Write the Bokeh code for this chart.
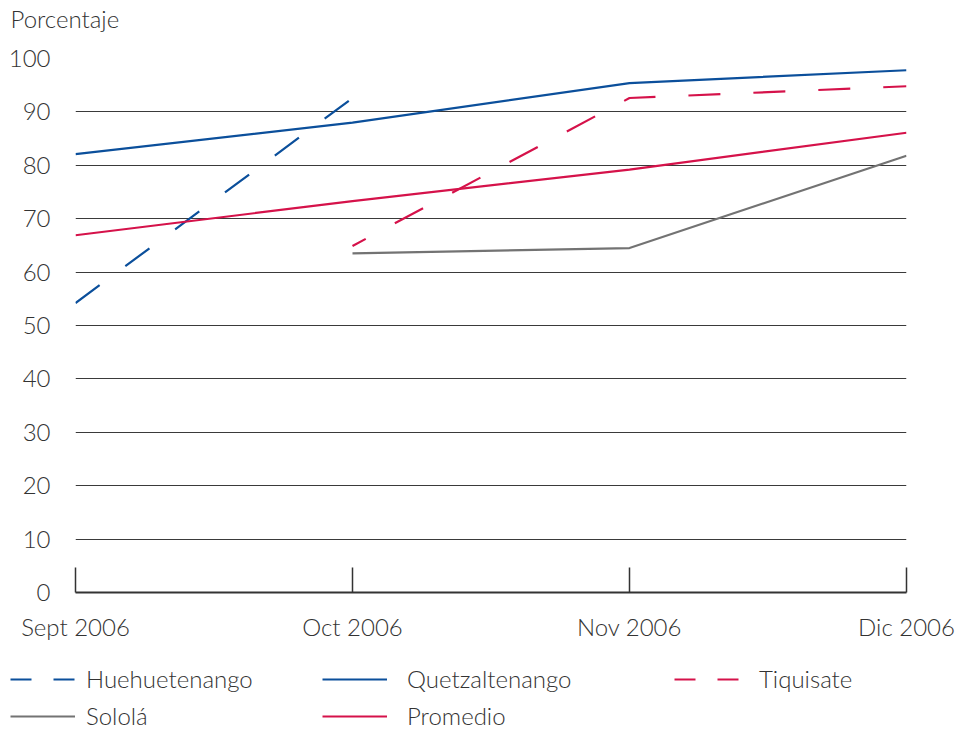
from bokeh.plotting import figure
from bokeh.models import Range1d, FixedTicker, Legend, LegendItem, Label
from bokeh.embed import file_html
from bokeh.resources import INLINE

nan = float("nan")

months = ["Sept 2006", "Oct 2006", "Nov 2006", "Dic 2006"]
huehuetenango = [54.2, 92.6, nan, nan]
quetzaltenango = [82.1, 88.0, 95.4, 97.8]
tiquisate = [nan, 64.9, 92.6, 94.8]
solola = [nan, 63.5, 64.5, 81.8]
promedio = [66.9, 73.3, 79.2, 86.1]
y_ticks = [0, 10, 20, 30, 40, 50, 60, 70, 80, 90, 100]
y_title = "Porcentaje"

BLUE = "#0b4f9b"
RED = "#d5124a"
GRAY = "#737373"
TXT = "#333333"
FONT = "Lato Light"
FS = "24px"

xs = list(range(len(months)))

W = 973
H_TOP = 36
H_MAIN = 610
H_LEG = 84


def blank_fig(h):
    f = figure(width=W, height=h, output_backend="svg", toolbar_location=None,
               x_range=Range1d(0, W), y_range=Range1d(0, h),
               x_axis_type=None, y_axis_type=None,
               min_border=0, min_border_left=0, min_border_right=0,
               min_border_top=0, min_border_bottom=0)
    f.grid.visible = False
    f.outline_line_color = None
    f.background_fill_color = "white"
    f.border_fill_color = "white"
    return f


# top strip with the axis title
tf = blank_fig(H_TOP)
tf.add_layout(Label(x=10, y=H_TOP - 18, x_units="screen", y_units="screen", text=y_title,
                    text_font=FONT, text_font_size=FS, text_color=TXT,
                    text_baseline="middle", text_align="left"))

# main chart
p = figure(width=W, height=H_MAIN, output_backend="svg", toolbar_location=None,
           x_range=Range1d(0, len(months) - 1), y_range=Range1d(0, 100),
           min_border_left=75, min_border_right=67, min_border_top=22, min_border_bottom=54)
p.outline_line_color = None
p.background_fill_color = "white"
p.border_fill_color = "white"
p.title.visible = False

p.xgrid.grid_line_color = None
p.ygrid.grid_line_color = "#3a3a3a"
p.ygrid.grid_line_width = 1
p.ygrid.ticker = FixedTicker(ticks=y_ticks)

p.yaxis.ticker = FixedTicker(ticks=y_ticks)
p.yaxis.axis_line_color = None
p.yaxis.major_tick_line_color = None
p.yaxis.major_tick_in = 0
p.yaxis.major_tick_out = 0
p.yaxis.minor_tick_line_color = None
p.yaxis.minor_tick_in = 0
p.yaxis.minor_tick_out = 0
p.yaxis.major_label_standoff = 25
p.yaxis.major_label_text_font = FONT
p.yaxis.major_label_text_font_size = FS
p.yaxis.major_label_text_color = TXT

p.xaxis.ticker = FixedTicker(ticks=xs)
p.xaxis.major_label_overrides = {i: m for i, m in zip(xs, months)}
p.xaxis.axis_line_color = "#333333"
p.xaxis.axis_line_width = 2
p.xaxis.major_tick_line_color = "#333333"
p.xaxis.major_tick_line_width = 1.5
p.xaxis.major_tick_in = 25
p.xaxis.major_tick_out = 0
p.xaxis.minor_tick_line_color = None
p.xaxis.major_label_standoff = 19
p.xaxis.major_label_text_font = FONT
p.xaxis.major_label_text_font_size = FS
p.xaxis.major_label_text_color = TXT

LW = 2.2
p.line(xs, huehuetenango, line_color=BLUE, line_width=LW, line_dash="30 32")
p.line(xs, quetzaltenango, line_color=BLUE, line_width=LW)
p.line(xs, tiquisate, line_color=RED, line_width=LW, line_dash="32 33", line_dash_offset=17)
p.line(xs, solola, line_color=GRAY, line_width=LW)
p.line(xs, promedio, line_color=RED, line_width=LW)

# legend strip (separate root, so its frame is not aligned to the chart's)
lf = blank_fig(H_LEG)
off_x = [-20, -10]
off_y = [-20, -20]
g_h = lf.line(off_x, off_y, line_color=BLUE, line_width=LW, line_dash="21 22")
g_q = lf.line(off_x, off_y, line_color=BLUE, line_width=LW)
g_t = lf.line(off_x, off_y, line_color=RED, line_width=LW, line_dash="21 22")
g_s = lf.line(off_x, off_y, line_color=GRAY, line_width=LW)
g_p = lf.line(off_x, off_y, line_color=RED, line_width=LW)


def make_legend(items, loc, standoff):
    lg = Legend(items=items, location=loc, orientation="vertical",
                glyph_width=65, glyph_height=20, label_height=24, label_standoff=standoff,
                spacing=8, padding=0, margin=0,
                border_line_color=None, background_fill_alpha=0,
                label_text_font=FONT, label_text_font_size=FS, label_text_color=TXT)
    lf.add_layout(lg, "center")


make_legend([LegendItem(label="Huehuetenango", renderers=[g_h]),
             LegendItem(label="Sololá", renderers=[g_s])], (10, 0), 11)
make_legend([LegendItem(label="Quetzaltenango", renderers=[g_q]),
             LegendItem(label="Promedio", renderers=[g_p])], (322, 0), 20)
make_legend([LegendItem(label="Tiquisate", renderers=[g_t])], (674, 37), 20)

open("out.html", "w").write(file_html([tf, p, lf], INLINE))
